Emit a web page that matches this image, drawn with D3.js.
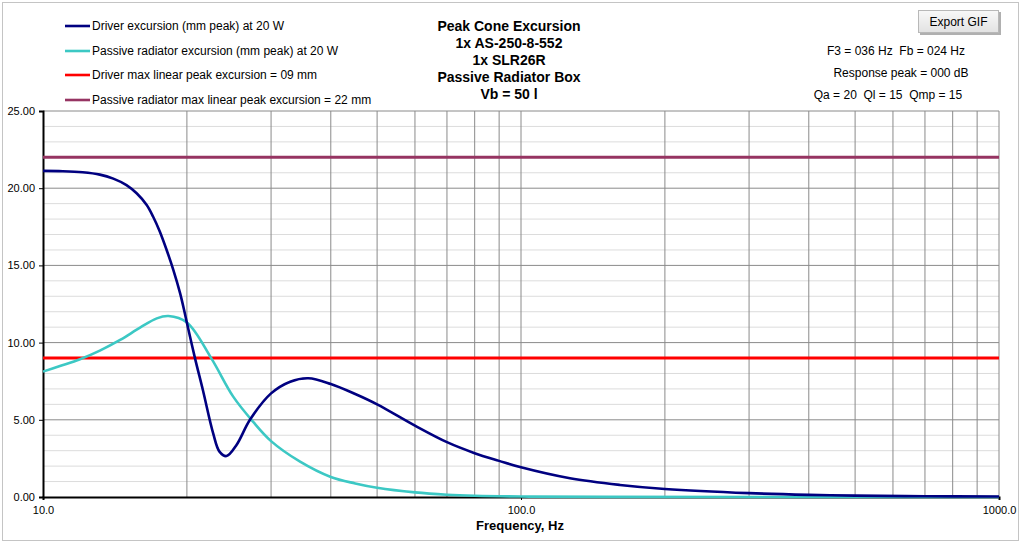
<!DOCTYPE html>
<html><head><meta charset="utf-8">
<script src="https://cdn.jsdelivr.net/npm/d3@7"></script>
<style>
html,body{margin:0;padding:0;background:#fff;}
text{font-family:"Liberation Sans",Arial,sans-serif;white-space:pre;}
</style></head>
<body>
<svg id="c" width="1024" height="543"></svg>
<script>
// ---- data ----
const driverFreq = [10,11,12.1,13.15,14.03,14.95,15.7,16.48,17.0,17.56,18.14,18.74,19.36,19.8,20,20.8,21.6,22.7,23.4,24.2,25.4,27.1,30,32.9,35.9,40,45,50,60,70,80,90,100,126.6,161,200,300,400,500,700,1000];
const driverExc  = [21.12,21.1,21.03,20.88,20.62,20.2,19.67,18.91,18.15,17.18,16.0,14.7,13.19,11.9,11.29,8.98,6.93,4.12,2.94,2.65,3.37,5.0,6.71,7.47,7.69,7.32,6.67,6.0,4.62,3.55,2.84,2.34,1.92,1.21,0.78,0.52,0.25,0.14,0.09,0.05,0.03];
const passiveFreq = [10,10.85,11.95,13.15,14.5,15.96,17.3,18.3,20,22.5,25,27.5,30,34.5,40,45,50,60,70,80,100,150,1000];
const passiveExc  = [8.12,8.48,8.92,9.48,10.17,10.97,11.57,11.72,11.3,8.98,6.5,4.88,3.62,2.29,1.3,0.88,0.6,0.3,0.15,0.08,0.03,0.01,0.0];
const driverXmax = 9;
const passiveXmax = 22;
const yTicks = [0,5,10,15,20,25];
const xTickLabels = [10,100,1000];
const legendLabels = ["Driver excursion (mm peak) at 20 W","Passive radiator excursion (mm peak) at 20 W","Driver max linear peak excursion = 09 mm","Passive radiator max linear peak excursion = 22 mm"];
const titleLines = ["Peak Cone Excursion","1x AS-250-8-552","1x SLR26R","Passive Radiator Box","Vb = 50 l"];
const infoLines = ["F3 = 036 Hz  Fb = 024 Hz","Response peak = 000 dB","Qa = 20  Ql = 15  Qmp = 15"];

// ---- layout ----
const svg = d3.select("#c");
const L=43,R=999,T=111,B=497;
const x = d3.scaleLog().domain([10,1000]).range([L,R]);
const y = d3.scaleLinear().domain([0,25]).range([B,T]);
const cDriver="#000080", cPassive="#3cc8c4", cRed="#ff0000", cPurple="#963462";

// outer frame
svg.append("rect").attr("x",2.5).attr("y",2.5).attr("width",1016).attr("height",538)
  .attr("fill","#fff").attr("stroke","#c4c4c4");

// minor horizontal grid
const minor = d3.range(1,25).filter(v=>v%5!==0);
svg.append("g").selectAll("line").data(minor).join("line")
  .attr("x1",L).attr("x2",R).attr("y1",d=>y(d)).attr("y2",d=>y(d))
  .attr("stroke","#dcdcdc").attr("stroke-width",1);
// major horizontal grid
svg.append("g").selectAll("line").data(yTicks.filter(v=>v>0)).join("line")
  .attr("x1",L).attr("x2",R).attr("y1",d=>y(d)).attr("y2",d=>y(d))
  .attr("stroke","#8a8a8a").attr("stroke-width",1);
// vertical grid
const vgrid=[];
[10,100].forEach(dec=>{for(let k=2;k<=10;k++)vgrid.push(dec*k);});
svg.append("g").selectAll("line").data(vgrid).join("line")
  .attr("x1",d=>x(d)).attr("x2",d=>x(d)).attr("y1",T).attr("y2",B)
  .attr("stroke","#8a8a8a").attr("stroke-width",1);

// axes
const yAxis = d3.axisLeft(y).tickValues(yTicks).tickFormat(d3.format(".2f")).tickSize(4).tickPadding(4);
const gy = svg.append("g").attr("transform",`translate(${L},0)`).call(yAxis);
gy.select(".domain").attr("stroke","#000").attr("stroke-width",2);
gy.selectAll(".tick line").attr("stroke","#000");
gy.selectAll("text").attr("font-size",11).attr("fill","#000")
  .style("font-family",'"Liberation Sans",Arial,sans-serif');
const xAxis = d3.axisBottom(x).tickValues(xTickLabels).tickFormat(d3.format(".1f")).tickSize(3).tickPadding(6);
const gx = svg.append("g").attr("transform",`translate(0,${B})`).call(xAxis);
gx.select(".domain").attr("stroke","#000").attr("stroke-width",2);
gx.selectAll(".tick line").attr("stroke","#000");
gx.selectAll("text").attr("font-size",11).attr("fill","#000")
  .style("font-family",'"Liberation Sans",Arial,sans-serif');
svg.append("text").attr("x",520).attr("y",530).attr("text-anchor","middle")
  .attr("font-size",13).attr("font-weight","bold").text("Frequency, Hz");

// limit lines
svg.append("line").attr("x1",L).attr("x2",R).attr("y1",y(passiveXmax)).attr("y2",y(passiveXmax))
  .attr("stroke",cPurple).attr("stroke-width",3);
svg.append("line").attr("x1",L).attr("x2",R).attr("y1",y(driverXmax)).attr("y2",y(driverXmax))
  .attr("stroke",cRed).attr("stroke-width",3);

// curves
const line = d3.line().x(d=>x(d[0])).y(d=>y(d[1])).curve(d3.curveCatmullRom.alpha(0.5));
svg.append("path").datum(passiveFreq.map((f,i)=>[f,passiveExc[i]]))
  .attr("d",line).attr("fill","none").attr("stroke",cPassive).attr("stroke-width",2.6);
svg.append("path").datum(driverFreq.map((f,i)=>[f,driverExc[i]]))
  .attr("d",line).attr("fill","none").attr("stroke",cDriver).attr("stroke-width",2.6);

// legend
const legColors=[cDriver,cPassive,cRed,cPurple];
const legY=[26,51,75,100];
legendLabels.forEach((t,i)=>{
  svg.append("line").attr("x1",65).attr("x2",90).attr("y1",legY[i]).attr("y2",legY[i])
    .attr("stroke",legColors[i]).attr("stroke-width",2.6);
  svg.append("text").attr("x",92).attr("y",legY[i]).attr("dy","0.35em")
    .attr("font-size",12).attr("fill","#000").text(t);
});

// title
const tY=[26,43.5,60.5,77.5,94.5];
titleLines.forEach((t,i)=>{
  svg.append("text").attr("x",509).attr("y",tY[i]).attr("dy","0.35em").attr("text-anchor","middle")
    .attr("font-size",14).attr("font-weight","bold").text(t);
});

// info
const infoX=[896,901,888], infoY=[51,73,95];
infoLines.forEach((t,i)=>{
  svg.append("text").attr("x",infoX[i]).attr("y",infoY[i]).attr("dy","0.35em").attr("text-anchor","middle")
    .attr("font-size",12).text(t);
});

// button
const defs=svg.append("defs");
const g=defs.append("linearGradient").attr("id","btn").attr("x1",0).attr("y1",0).attr("x2",0).attr("y2",1);
g.append("stop").attr("offset","0").attr("stop-color","#f8f8f8");
g.append("stop").attr("offset","1").attr("stop-color","#e2e2e2");
svg.append("rect").attr("x",920).attr("y",12).attr("width",81).attr("height",23).attr("fill","#b0b0b0");
svg.append("rect").attr("x",918.5).attr("y",10.5).attr("width",80).attr("height",22)
  .attr("fill","url(#btn)").attr("stroke","#b8b8b8");
svg.append("text").attr("x",958.5).attr("y",21.5).attr("dy","0.35em").attr("text-anchor","middle")
  .attr("font-size",12).text("Export GIF");
</script>
</body></html>
